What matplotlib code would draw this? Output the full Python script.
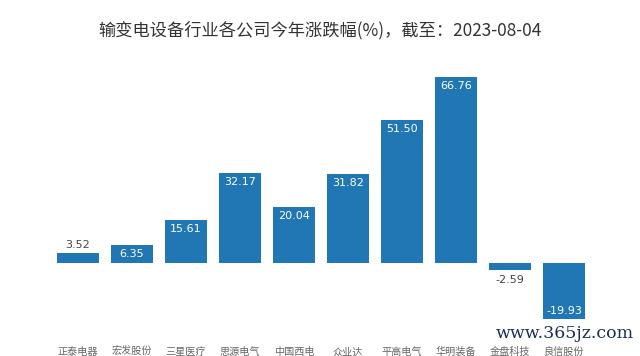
import matplotlib
matplotlib.use("Agg")
import matplotlib.pyplot as plt

companies = ["正泰电器", "宏发股份", "三星医疗", "思源电气", "中国西电",
             "众业达", "平高电气", "华明装备", "金盘科技", "良信股份"]
changes = [3.52, 6.35, 15.61, 32.17, 20.04, 31.82, 51.50, 66.76, -2.59, -19.93]

BAR = "#2177b4"
CJK = ["Noto Sans CJK SC", "DejaVu Sans"]

fig = plt.figure(figsize=(6.4, 3.56), dpi=100)
ax = fig.add_axes([51 / 640, 26 / 356, 540 / 640, 260 / 356])

x = list(range(len(companies)))
bars = ax.bar(x, changes, width=0.78, color=BAR)
ax.set_xlim(-0.5, len(companies) - 0.5)
ax.set_ylim(-24.05, 69.3)

# 数值标签：高柱放在柱内，矮柱放在柱外
for rect, v in zip(bars, changes):
    cx = rect.get_x() + rect.get_width() / 2
    if v >= 5:
        ax.annotate(f"{v:.2f}", (cx, v), xytext=(0, -9), textcoords="offset pixels",
                    ha="center", va="center", color="white", fontsize=8)
    elif v >= 0:
        ax.annotate(f"{v:.2f}", (cx, v), xytext=(0, 8), textcoords="offset pixels",
                    ha="center", va="center", color="#444444", fontsize=8)
    elif v > -5:
        ax.annotate(f"{v:.2f}", (cx, v), xytext=(0, -10), textcoords="offset pixels",
                    ha="center", va="center", color="#444444", fontsize=8)
    else:
        ax.annotate(f"{v:.2f}", (cx, v), xytext=(0, 8), textcoords="offset pixels",
                    ha="center", va="center", color="white", fontsize=8)

ax.set_xticks(x)
ax.set_xticklabels(companies, fontsize=7.3, color="#666666", family=CJK)
ax.tick_params(axis="x", length=0, pad=12)
ax.set_yticks([])
for s in ax.spines.values():
    s.set_visible(False)

fig.text(0.5, 1 - 30 / 356, "输变电设备行业各公司今年涨跌幅(%)，截至：2023-08-04",
         ha="center", va="center", fontsize=12.4, color="#333333", family=CJK)

# 水印，略上移以免压住横轴标签
fig.text(634 / 640, 1 - 333 / 356, "www.365jz.com", ha="right", va="center",
         fontsize=12.5, color="#1c2d5c", family="DejaVu Serif")

fig.savefig("out.png", dpi=100)
